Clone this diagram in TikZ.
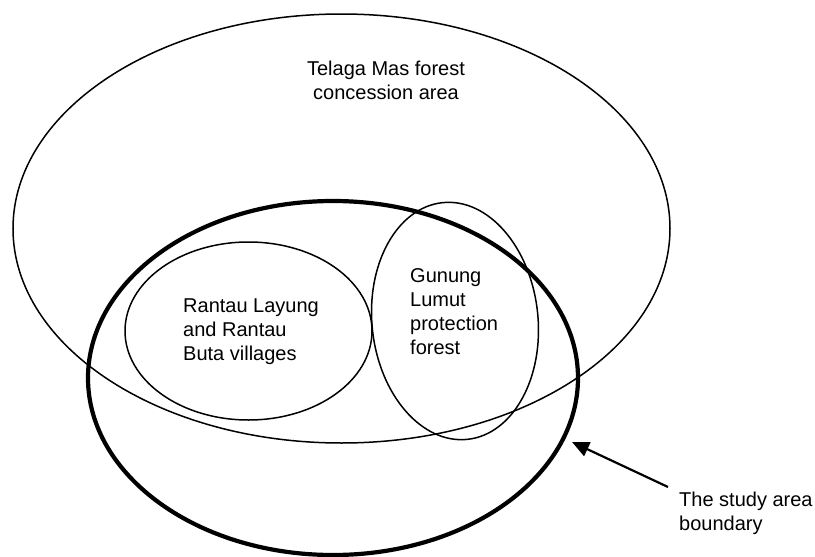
\documentclass[tikz,border=0pt]{standalone}
\usepackage{fontspec}
\setmainfont{Liberation Sans}
\usetikzlibrary{arrows.meta,positioning,shapes.geometric}

\begin{document}
\begin{tikzpicture}[x=1pt, y=-1pt,
    region/.style={draw, ellipse, line width=1.5pt, inner sep=0pt},
    studyline/.style={region, line width=4.2pt},
    txt/.style={font=\fontsize{20}{24}\selectfont, inner sep=0pt},
    pointer/.style={-{Triangle[length=17pt, width=15pt]}, line width=2.2pt}
  ]
    \useasboundingbox (0,0) rectangle (815,557);

    \node[region, minimum width=657pt, minimum height=429pt] (telaga) at (341.5,228.5) {};
    \node[studyline, minimum width=490pt, minimum height=354pt] (study) at (333,378) {};
    \node[region, minimum width=247pt, minimum height=178pt] (villages) at (248.5,331) {};
    \node[region, minimum width=166pt, minimum height=238pt, rotate=6] (lumut) at (455,321) {};

    \node[txt, align=center] (telagatext) at (386,80) {Telaga Mas forest\\concession area};
    \node[txt, align=left, anchor=west] (villagestext) at (183,332) {Rantau Layung\\and Rantau\\Buta villages};
    \node[txt, align=left, anchor=west] (lumuttext) at (410,312) {Gunung\\Lumut\\protection\\forest};
    \node[txt, align=left, anchor=north west] (studytext) at (679,492) {The study area\\boundary};

    \coordinate (tip) at (572,442);
    \draw[pointer] ([shift={(-11,-5)}]studytext.north west) -- (tip);
  \end{tikzpicture}
\end{document}
